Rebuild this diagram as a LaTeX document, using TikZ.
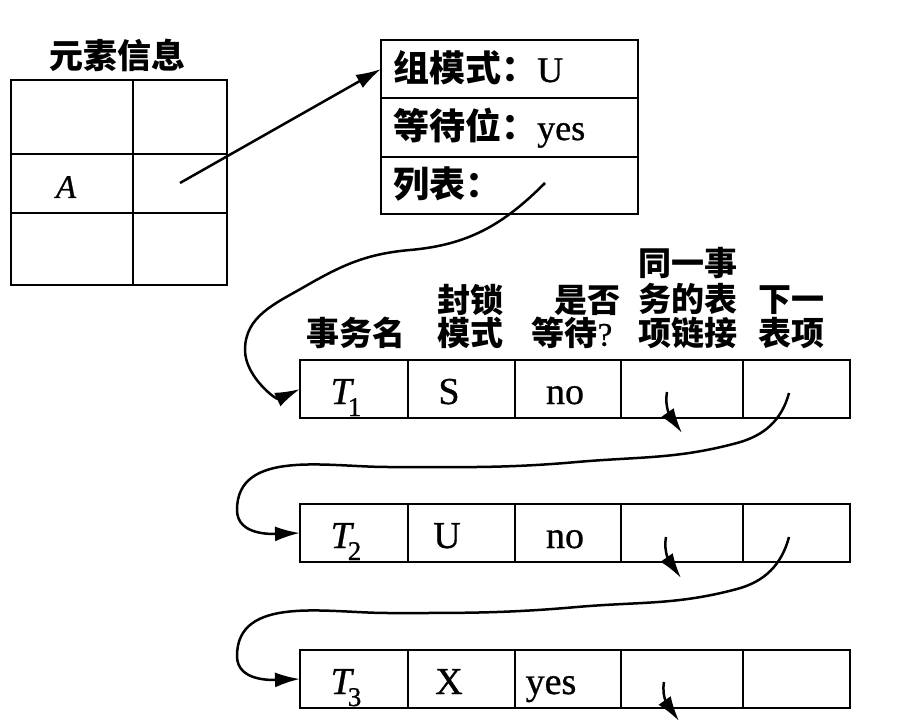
\documentclass[tikz,border=0pt]{standalone}
\usepackage{fontspec}
\setmainfont{Liberation Serif}
\newfontfamily\latb{Liberation Serif}[FakeBold=0.8]
\newfontfamily\cjk{Noto Sans CJK SC}
\usetikzlibrary{fit,arrows.meta}
\begin{document}
\begin{tikzpicture}[x=1pt,y=1pt,
  box/.style={draw, line width=2.9pt, inner sep=0pt, outer sep=0pt},
  lnk/.style={line width=2.5pt, -{Latex[length=25pt,width=15pt]}},
  hd/.style={font=\fontsize{33}{33}\selectfont\cjk\bfseries, inner sep=0pt},
  lat/.style={font=\fontsize{38}{38}\selectfont\latb, inner sep=0pt, anchor=base},
  gtx/.style={font=\fontsize{36}{36}\selectfont\latb, inner sep=0pt, anchor=base west},
]
\useasboundingbox (0,0) rectangle (902,-722);
\fill[white] (0,0) rectangle (902,-722);

% element information table
\node[hd, font=\fontsize{34}{34}\selectfont\cjk\bfseries] (title) at (117,-55) {元素信息};
\foreach \r/\ta/\tb in {1/80/154,2/154/213,3/213/285}{
  \node[box, fit={(11,-\ta) (133,-\tb)}] (e\r-a) {};
  \node[box, fit={(133,-\ta) (227,-\tb)}] (e\r-b) {};
}
\node[lat, font=\fontsize{33}{33}\selectfont\latb\itshape] (atxt) at (66,-198) {A};

% group box
\node[box, fit={(381,-40) (638,-98)}] (g1) {};
\node[box, fit={(381,-98) (638,-157)}] (g2) {};
\node[box, fit={(381,-157) (638,-214)}] (g3) {};
\node[gtx] (gt1) at (393,-82) {{\cjk\bfseries 组模式：}U};
\node[gtx] (gt2) at (393,-140) {{\cjk\bfseries 等待位：}yes};
\node[gtx] (gt3) at (393,-198) {{\cjk\bfseries 列表：}};

\coordinate (ptr) at (180,-183);
\draw[lnk] (ptr) -- (g1.west);

% headers
\node[hd] (h1) at (356,-333) {事务名};
\node[hd] (h2a) at (470,-300) {封锁};
\node[hd] (h2b) at (470,-333) {模式};
\node[hd] (h3a) at (587,-300) {是否};
\node[hd] (h3b) at (572,-333) {等待{\latb\mdseries ?}};
\node[hd] (h4a) at (688,-263) {同一事};
\node[hd] (h4b) at (688,-299) {务的表};
\node[hd] (h4c) at (688,-333) {项链接};
\node[hd] (h5a) at (791,-300) {下一};
\node[hd] (h5b) at (791,-333) {表项};

% rows
\foreach \r/\ya/\yb in {1/360/418,2/504/562,3/650/708}{
  \foreach \c/\xa/\xb in {1/300/408,2/408/515,3/515/621,4/621/743,5/743/850}{
    \node[box, fit={(\xa,-\ya) (\xb,-\yb)}] (r\r c\c) {};
  }
}

% row texts
\node[lat] (t1) at (346,-404) {{\itshape T}\kern-4pt\raisebox{-12pt}{\fontsize{27}{27}\selectfont 1}};
\node[lat] (m1) at (449,-404) {S};
\node[lat] (w1) at (565,-404) {no};
\node[lat] (t2) at (346,-548) {{\itshape T}\kern-4pt\raisebox{-12pt}{\fontsize{27}{27}\selectfont 2}};
\node[lat] (m2) at (447,-548) {U};
\node[lat] (w2) at (565,-548) {no};
\node[lat] (t3) at (346,-694) {{\itshape T}\kern-4pt\raisebox{-12pt}{\fontsize{27}{27}\selectfont 3}};
\node[lat] (m3) at (449,-694) {X};
\node[lat] (w3) at (551,-694) {yes};

% list pointer to first entry
\coordinate (lst) at (545,-183);
\draw[lnk] (lst) to[out=-135,in=5] (410,-250) to[out=185,in=30] (304,-287)
  to[out=210,in=90] (245,-350) to[out=-90,in=205] (r1c1.west);

% next-entry links
\coordinate (n1) at (789,-393);
\draw[lnk] (n1) to[out=-105,in=15] (737,-443) to[out=195,in=5] (577,-462)
  to[out=185,in=0] (388,-467) to[out=180,in=90] (237,-510) to[out=-90,in=182] (r2c1.west);
\coordinate (n2) at (789,-537);
\draw[lnk] (n2) to[out=-105,in=15] (737,-589) to[out=195,in=5] (577,-607)
  to[out=185,in=0] (388,-613) to[out=180,in=90] (237,-656) to[out=-90,in=182] (r3c1.west);

% same-transaction links
\coordinate (s1) at (667,-392); \coordinate (s1e) at (682,-433);
\coordinate (s2) at (666,-537); \coordinate (s2e) at (681,-578);
\coordinate (s3) at (664,-682); \coordinate (s3e) at (679,-721);
\draw[lnk] (s1) to[out=-100,in=125] (s1e);
\draw[lnk] (s2) to[out=-100,in=125] (s2e);
\draw[lnk] (s3) to[out=-100,in=125] (s3e);
\end{tikzpicture}
\end{document}
